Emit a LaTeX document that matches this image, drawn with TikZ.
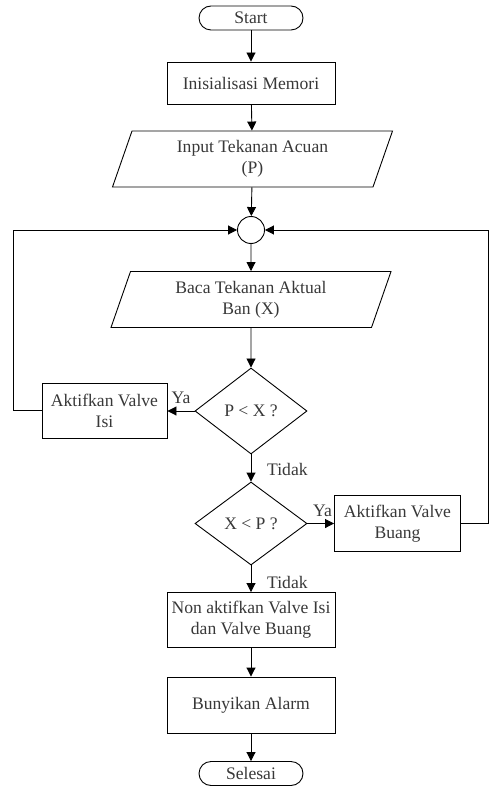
\documentclass[tikz,border=0pt]{standalone}
\usepackage{fontspec}
\setmainfont{Liberation Serif}
\usetikzlibrary{shapes.geometric,arrows.meta}
\begin{document}
\begin{tikzpicture}[x=1pt,y=-1pt,
  every node/.style={font=\fontsize{17.6}{21}\selectfont, text=black!78, align=center, inner sep=1pt},
  base/.style={draw=black, line width=0.9pt},
  procbox/.style={base, rectangle, minimum width=168pt, minimum height=55pt},
  smallbox/.style={base, rectangle, minimum width=125pt, minimum height=55pt},
  termbox/.style={base, rectangle, rounded corners=12pt, minimum width=104pt, minimum height=24pt},
  iobox/.style={base, trapezium, trapezium left angle=63.4, trapezium right angle=116.6,
    trapezium stretches body=true, minimum width=280pt, minimum height=56pt},
  decbox/.style={base, diamond, minimum width=112pt, minimum height=85pt, inner sep=0pt},
  joinpt/.style={base, circle, minimum size=27pt, inner sep=0pt},
  conn/.style={line width=0.9pt, draw=black},
  arr/.style={conn, -{Triangle[length=9pt,width=9pt]}},
  lbl/.style={inner sep=0pt}
]
\useasboundingbox (0,0) rectangle (488,786);

\node[termbox] (start) at (251,18) {Start};
\node[procbox, minimum height=42pt] (init) at (251,83) {Inisialisasi Memori};
\node[iobox] (input) at (252.5,159) {Input Tekanan Acuan\\(P)};
\node[joinpt] (circ) at (251,230) {};
\node[iobox] (baca) at (251,299.5) {Baca Tekanan Aktual\\Ban (X)};
\node[decbox, minimum height=86pt] (d1) at (251,411) {P < X ?};
\node[smallbox] (isi) at (104.5,410.5) {Aktifkan Valve\\Isi};
\node[decbox, minimum height=83pt] (d2) at (251,523.5) {X < P ?};
\node[smallbox, minimum width=126pt, minimum height=56pt] (buang) at (397.5,523.5) {Aktifkan Valve\\Buang};
\node[procbox] (non) at (251,620) {Non aktifkan Valve Isi\\dan Valve Buang};
\node[procbox, minimum height=56pt] (alarm) at (251,705) {Bunyikan Alarm};
\node[termbox] (selesai) at (251,773.5) {Selesai};

\draw[arr] (start) -- (init);
\draw[arr] (init) -- (input);
\draw[arr] (input) -- (circ);
\draw[arr] (circ) -- (baca);
\draw[arr] (baca) -- (d1);
\draw[arr] (d1.west) -- (isi.east |- d1.west);
\draw[arr] (isi.west) -- ++(-28,0) coordinate (lt) |- (circ.west);
\draw[arr] (d1) -- (d2);
\draw[arr] (d2.east) -- (buang.west |- d2.east);
\draw[arr] (buang.east) -- ++(27,0) coordinate (rt) |- (circ.east);
\draw[arr] (d2) -- (non);
\draw[arr] (non) -- (alarm);
\draw[arr] (alarm) -- (selesai);

\node[lbl] (ya1) at (181,398) {Ya};
\node[lbl] (ya2) at (322.5,511) {Ya};
\node[lbl, anchor=west] (tidak1) at (267,469) {Tidak};
\node[lbl, anchor=west] (tidak2) at (267,582) {Tidak};
\end{tikzpicture}
\end{document}
